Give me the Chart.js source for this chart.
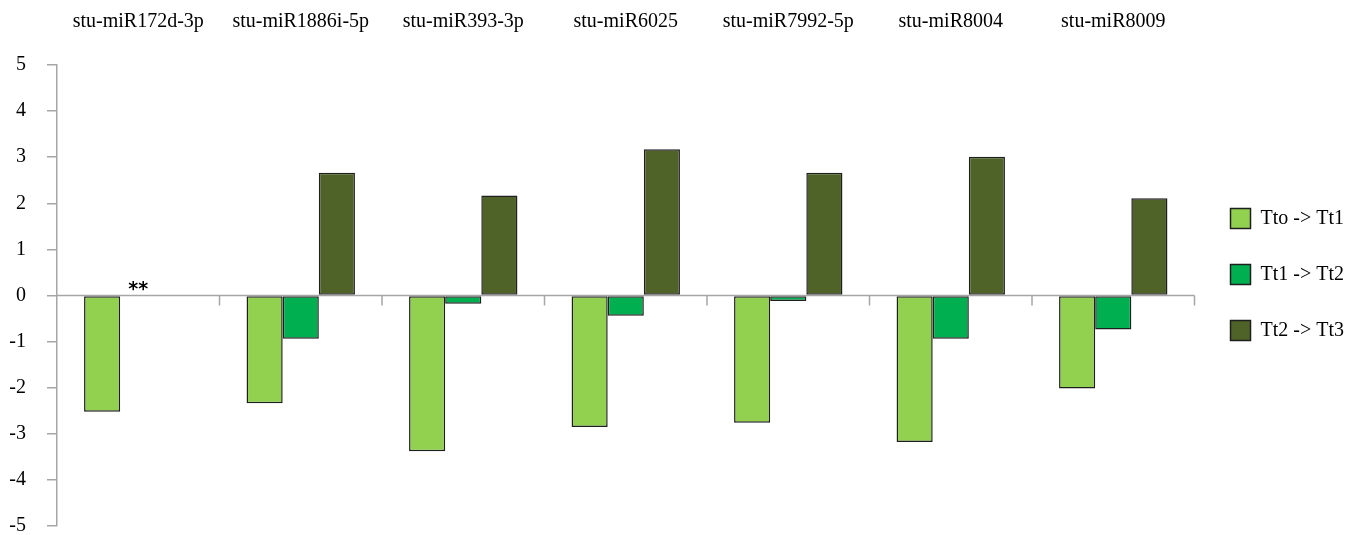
<!DOCTYPE html>
<html>
<head>
<meta charset="utf-8">
<script src="https://cdn.jsdelivr.net/npm/chart.js@4/dist/chart.umd.min.js"></script>
<style>
html,body{margin:0;padding:0;background:#fff;}
#wrap{position:relative;width:1362px;height:535px;}
</style>
</head>
<body>
<div id="wrap"><canvas id="c" width="1362" height="535"></canvas></div>
<script>
const categories = ["stu-miR172d-3p","stu-miR1886i-5p","stu-miR393-3p","stu-miR6025","stu-miR7992-5p","stu-miR8004","stu-miR8009"];
const seriesNames = ["Tto -> Tt1","Tt1 -> Tt2","Tt2 -> Tt3"];
const tto_tt1 = [-2.52,-2.34,-3.38,-2.85,-2.76,-3.18,-2.02];
const tt1_tt2 = [null,-0.94,-0.18,-0.44,-0.12,-0.94,-0.74];
const tt2_tt3 = [null,2.66,2.17,3.17,2.66,3.01,2.11];
const yTicks = [5,4,3,2,1,0,-1,-2,-3,-4,-5];
const annotations = [{category: 0, value: 0, text: "**"}];

const colors = ["#92D050","#00B050","#4F6228"];
const FONT = "'Liberation Serif', 'Times New Roman', serif";

const zeroAxis = {
  id: 'zeroAxis',
  afterDatasetsDraw(chart) {
    const ctx = chart.ctx, x = chart.scales.x, y = chart.scales.y;
    const y0 = y.getPixelForValue(0);
    ctx.save();
    ctx.strokeStyle = '#A6A6A6';
    ctx.lineWidth = 1.5;
    ctx.beginPath();
    ctx.moveTo(x.left, y0); ctx.lineTo(x.right, y0);
    const n = categories.length;
    for (let i = 1; i <= n; i++) {
      const px = (x.getPixelForValue(i - 1) + (i < n ? x.getPixelForValue(i) : 2 * x.getPixelForValue(i - 1) - x.getPixelForValue(i - 2))) / 2;
      ctx.moveTo(px, y0); ctx.lineTo(px, y0 + 10);
    }
    ctx.stroke();
    ctx.fillStyle = '#000';
    ctx.font = "bold 19px 'DejaVu Sans', sans-serif";
    ctx.textAlign = 'center';
    ctx.textBaseline = 'bottom';
    annotations.forEach(a => {
      ctx.fillText(a.text, x.getPixelForValue(a.category), y.getPixelForValue(a.value) + 4);
    });
    ctx.restore();
  }
};

new Chart(document.getElementById('c'), {
  type: 'bar',
  data: {
    labels: categories,
    datasets: [tto_tt1, tt1_tt2, tt2_tt3].map((d, i) => ({
      label: seriesNames[i],
      data: d,
      backgroundColor: colors[i],
      borderColor: '#1f1f1f',
      borderWidth: 1.5,
      borderSkipped: false,
      categoryPercentage: 0.667,
      barPercentage: 1.0
    }))
  },
  options: {
    responsive: false,
    animation: false,
    devicePixelRatio: 1,
    layout: { padding: { left: 0, right: 8, top: 9, bottom: -5 } },
    plugins: {
      tooltip: { enabled: false },
      legend: {
        position: 'right',
        labels: {
          boxWidth: 20,
          boxHeight: 20,
          padding: 36,
          color: '#000',
          font: { family: FONT, size: 20 }
        }
      }
    },
    scales: {
      x: {
        position: 'top',
        grid: { display: false, drawTicks: false },
        border: { display: false },
        afterFit(scale) { scale.height = 56; },
        ticks: { color: '#000', font: { family: FONT, size: 20 }, padding: 31, maxRotation: 0, autoSkip: false }
      },
      y: {
        min: -5, max: 5,
        afterBuildTicks(scale) { scale.ticks = yTicks.map(v => ({ value: v })); },
        afterFit(scale) { scale.width = 57; scale.paddingTop = 12; scale.paddingBottom = 9; },
        grid: { drawOnChartArea: false, drawTicks: true, tickLength: 10, color: '#A6A6A6', lineWidth: 1.5 },
        border: { display: true, color: '#A6A6A6', width: 1.5 },
        ticks: { color: '#000', font: { family: FONT, size: 20 }, padding: 21 }
      }
    }
  },
  plugins: [zeroAxis]
});
</script>
</body>
</html>
